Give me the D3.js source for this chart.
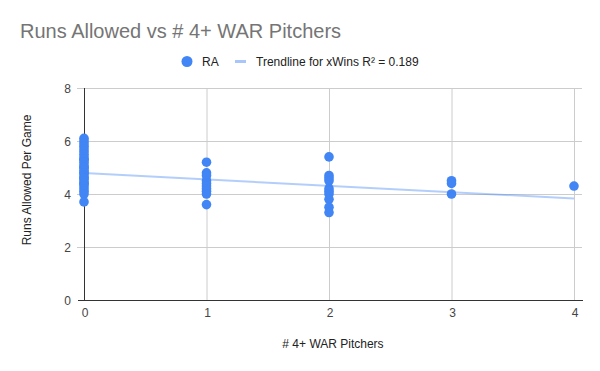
<!DOCTYPE html>
<html>
<head>
<meta charset="utf-8">
<script src="https://cdn.jsdelivr.net/npm/d3@7.9.0/dist/d3.min.js"></script>
<style>
  body { margin: 0; background: #fff; }
  svg { font-family: "Liberation Sans", Arial, sans-serif; }
</style>
</head>
<body>
<svg id="chart" width="600" height="371"></svg>
<script>
// # of 4+ WAR pitchers and runs allowed per game
const pitchers0 = [6.1, 6.0, 5.9, 5.8, 5.7, 5.6, 5.5, 5.4, 5.3, 5.3, 5.2, 5.1, 5.0, 5.0, 4.9, 4.8, 4.8, 4.7,
  4.6, 4.6, 4.5, 4.4, 4.4, 4.3, 4.2, 4.1, 4.0, 3.7];
const pitchers1 = [5.2, 4.8, 4.7, 4.5, 4.4, 4.3, 4.2, 4.1, 4.0, 3.6];
const pitchers2 = [5.4, 4.7, 4.6, 4.5, 4.2, 4.1, 4.0, 3.8, 3.5, 3.3];
const pitchers3 = [4.5, 4.4, 4.0];
const pitchers4 = [4.3];

const xTicks = [0, 1, 2, 3, 4];
const yTicks = [0, 2, 4, 6, 8];

// trendline as shown in the chart
const trendIntercept = 4.79;
const trendSlope = -0.24;
const trendLabel = 'Trendline for xWins R\u00b2 = 0.189';

const points = [];
[pitchers0, pitchers1, pitchers2, pitchers3, pitchers4].forEach((arr, i) => {
  arr.forEach((v) => points.push({ x: i, y: v }));
});

const svg = d3.select('#chart');
const x = d3.scaleLinear().domain([0, 4]).range([84, 574]);
const y = d3.scaleLinear().domain([0, 8]).range([300, 88]);

svg.append('text')
  .attr('x', 20)
  .attr('y', 37.5)
  .attr('fill', '#757575')
  .style('font-size', '20px')
  .text('Runs Allowed vs # 4+ WAR Pitchers');

// legend
const legend = svg.append('g');
legend.append('circle').attr('cx', 187).attr('cy', 61.5).attr('r', 5.5).attr('fill', '#4285f4');
legend.append('text').attr('x', 202).attr('y', 66).style('font-size', '12px').attr('fill', '#222').text('RA');
legend.append('line').attr('x1', 235).attr('x2', 246).attr('y1', 61.5).attr('y2', 61.5)
  .attr('stroke', '#a9c6fa').attr('stroke-width', 3);
legend.append('text').attr('x', 256).attr('y', 66).style('font-size', '12px').attr('fill', '#222').text(trendLabel);

// grid
svg.append('g')
  .selectAll('line')
  .data(yTicks.filter((d) => d > 0))
  .join('line')
  .attr('x1', x(0) - 7).attr('x2', x(4) + 8)
  .attr('y1', (d) => y(d) + 0.5).attr('y2', (d) => y(d) + 0.5)
  .attr('stroke', '#cccccc');

svg.append('g')
  .selectAll('line')
  .data(xTicks.filter((d) => d > 0))
  .join('line')
  .attr('x1', (d) => x(d) + 0.5).attr('x2', (d) => x(d) + 0.5)
  .attr('y1', y(8)).attr('y2', y(0))
  .attr('stroke', '#cccccc');

// axes lines
svg.append('line')
  .attr('x1', x(0) + 0.5).attr('x2', x(0) + 0.5)
  .attr('y1', y(8)).attr('y2', y(0))
  .attr('stroke', '#333');
svg.append('line')
  .attr('x1', x(0) - 6).attr('x2', x(4) + 9)
  .attr('y1', y(0) + 0.5).attr('y2', y(0) + 0.5)
  .attr('stroke', '#333');

// tick labels
svg.append('g')
  .selectAll('text')
  .data(yTicks)
  .join('text')
  .attr('x', 71)
  .attr('y', (d) => y(d) + 4.5)
  .attr('text-anchor', 'end')
  .attr('fill', '#444')
  .style('font-size', '12px')
  .text((d) => d);

svg.append('g')
  .selectAll('text')
  .data(xTicks)
  .join('text')
  .attr('x', (d) => x(d) + 1)
  .attr('y', 317)
  .attr('text-anchor', 'middle')
  .attr('fill', '#444')
  .style('font-size', '12px')
  .text((d) => d);

// axis titles
svg.append('text')
  .attr('x', 333)
  .attr('y', 348)
  .attr('text-anchor', 'middle')
  .attr('fill', '#222')
  .style('font-size', '12px')
  .text('# 4+ WAR Pitchers');

svg.append('text')
  .attr('transform', 'translate(31,180) rotate(-90)')
  .attr('text-anchor', 'middle')
  .attr('fill', '#222')
  .style('font-size', '12px')
  .text('Runs Allowed Per Game');

// points
svg.append('g')
  .selectAll('circle')
  .data(points)
  .join('circle')
  .attr('cx', (d) => x(d.x))
  .attr('cy', (d) => y(d.y))
  .attr('r', 4.8)
  .attr('fill', '#4285f4');

// trendline
svg.append('line')
  .attr('x1', x(0)).attr('x2', x(4))
  .attr('y1', y(trendIntercept))
  .attr('y2', y(trendIntercept + trendSlope * 4))
  .attr('stroke', '#4285f4')
  .attr('stroke-opacity', 0.4)
  .attr('stroke-width', 2);
</script>
</body>
</html>
